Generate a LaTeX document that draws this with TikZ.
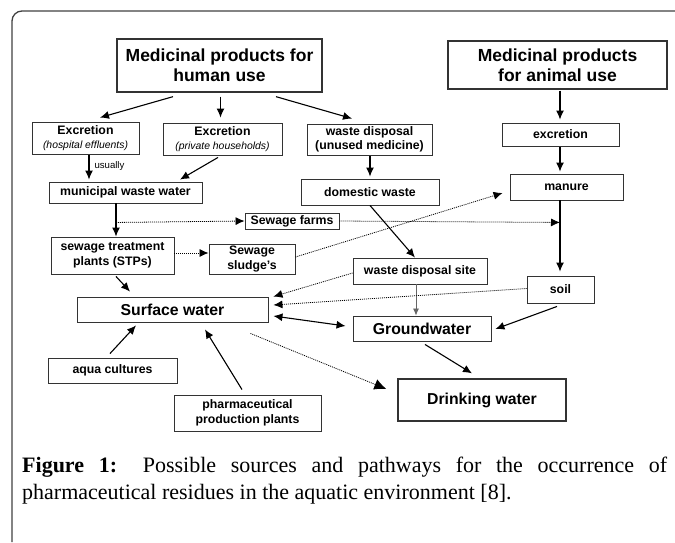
\documentclass[tikz,border=0pt]{standalone}
\usepackage{fontspec}
\setmainfont{Liberation Serif}
\newfontfamily\arialfont{Liberation Sans}
\newcommand\subtxt[1]{{\mdseries\itshape\fontsize{10.4}{12}\selectfont #1}}
\usetikzlibrary{arrows.meta,calc}
\begin{document}
\begin{tikzpicture}[x=1pt,y=-1pt,
  box/.style={draw=black!80,line width=0.9pt,inner sep=0pt,align=center,
    font=\arialfont\bfseries\fontsize{12.3}{14.5}\selectfont},
  bigbox/.style={box,line width=1.3pt,font=\arialfont\bfseries\fontsize{17.5}{20}\selectfont},
  midbox/.style={box,font=\arialfont\bfseries\fontsize{15.8}{18}\selectfont},
  arr/.style={line width=1.1pt,-{Latex[length=9pt,width=8pt]}},
  thinarr/.style={line width=0.8pt,draw=black!60,-{Latex[length=7pt,width=6pt]}},
  darr/.style={line width=0.8pt,dash pattern=on 1pt off 1pt,-{Latex[length=9pt,width=8pt]}},
  dbig/.style={line width=0.8pt,dash pattern=on 1pt off 1pt,-{Latex[length=12pt,width=11pt]}},
  lbl/.style={font=\arialfont\fontsize{9.6}{11}\selectfont,inner sep=0pt}
]
\useasboundingbox (0,0) rectangle (675,542);
% frame
\draw[line width=1.3pt,draw=black!75,rounded corners=10pt] (12,542) -- (12,11) -- (675,11);

% boxes
\node[bigbox,minimum width=205pt,minimum height=53pt] (human) at (219.5,65.5) {Medicinal products for\\human use};
\node[bigbox,minimum width=219pt,minimum height=48pt] (animal) at (557.5,65) {Medicinal products\\for animal use};
\node[box,minimum width=107pt,minimum height=32pt] (exhosp) at (85.5,138) {Excretion\\\subtxt{(hospital effluents)}};
\node[box,minimum width=119pt,minimum height=32pt] (exhh) at (222.5,139) {Excretion\\\subtxt{(private households)}};
\node[box,minimum width=125pt,minimum height=31pt] (wdisp) at (369.5,139.5) {waste disposal\\(unused medicine)};
\node[box,minimum width=117pt,minimum height=23pt] (excr) at (560.5,134.5) {excretion};
\node[box,minimum width=153pt,minimum height=21pt] (municipal) at (125.5,192.5) {municipal waste water};
\node[box,minimum width=138pt,minimum height=26pt] (domestic) at (370,192) {domestic waste};
\node[box,minimum width=113pt,minimum height=26pt] (manure) at (566.5,187) {manure};
\node[box,minimum width=94pt,minimum height=16pt] (farms) at (292,221) {Sewage farms};
\node[box,minimum width=123pt,minimum height=37pt] (stp) at (112.5,255.5) {sewage treatment\\plants (STPs)};
\node[box,minimum width=86pt,minimum height=30pt] (sludge) at (252,259) {Sewage\\sludge’s};
\node[box,minimum width=134pt,minimum height=26pt] (wds) at (420,271) {waste disposal site};
\node[box,minimum width=67pt,minimum height=27pt] (soil) at (560.5,289.5) {soil};
\node[midbox,minimum width=191pt,minimum height=25pt] (surface) at (172.5,309.5) {Surface water};
\node[midbox,minimum width=138pt,minimum height=25pt] (ground) at (422,328.5) {Groundwater};
\node[box,minimum width=129pt,minimum height=25pt] (aqua) at (112.5,370.5) {aqua cultures};
\node[box,minimum width=147pt,minimum height=36pt] (pharma) at (247.5,413) {pharmaceutical\\production plants};
\node[midbox,line width=1.3pt,minimum width=168pt,minimum height=42pt] (drink) at (482,400) {Drinking water};

% helper coordinates on lines
\coordinate (mj) at ($(municipal.south)+(-9.5,19)$);
\coordinate (ms) at ($(manure.south)+(-6.5,22)$);

% solid arrows
\draw[arr] ($(human.south)+(-46.5,4)$) -- ($(exhosp.north)+(14.5,-4)$);
\draw[arr] ($(human.south)+(1,4)$) -- ($(exhh.north)+(-2,-5)$);
\draw[arr] ($(human.south)+(56.5,4)$) -- ($(wdisp.north)+(-17.5,-5)$);
\draw[arr] ($(exhosp.south)+(3.5,1)$) -- node[lbl,anchor=west,xshift=5pt,yshift=1pt]{usually} ($(municipal.north)+(-36.5,-2)$);
\draw[arr] ($(exhh.south)+(-4.5,2)$) -- ($(municipal.north)+(54.5,-2)$);
\draw[arr] ($(wdisp.south)+(0.5,1)$) -- ($(domestic.north)+(0,-2)$);
\draw[arr] ($(animal.south)+(2.5,1)$) -- ($(excr.north)+(-0.5,-3)$);
\draw[arr] ($(excr.south)+(-0.5,1)$) -- ($(manure.north)+(-6.5,-2)$);
\draw[arr] ($(municipal.south)+(-9.5,0)$) -- ($(stp.north)+(3.5,0)$);
\draw[arr] ($(manure.south)+(-6.5,0)$) -- ($(soil.north)+(-0.5,-4)$);
\draw[arr] ($(stp.south)+(3.5,2)$) -- ($(surface.north)+(-42.5,-5)$);
\draw[arr] (domestic.south) -- ($(wds.north)+(-5,0)$);
\draw[thinarr] ($(wds.south)+(-4,0)$) -- ($(ground.north)+(-6,0)$);
\draw[arr] ($(soil.south)+(-3.5,3)$) -- ($(ground.east)+(4,0.5)$);
\draw[arr] ($(ground.south)+(3,3)$) -- ($(drink.north)+(-10,-5)$);
\draw[arr] ($(aqua.north)+(-2.5,-4)$) -- ($(surface.south)+(-36.5,3)$);
\draw[arr] ($(pharma.north)+(-5.5,-5)$) -- ($(surface.south)+(32.5,7)$);
\draw[line width=1.1pt,{Latex[length=9pt,width=8pt]}-{Latex[length=9pt,width=8pt]}] ($(surface.east)+(5,6.5)$) -- ($(ground.west)+(-7,-2.5)$);

% dotted arrows
\draw[darr] (mj) -- (farms.west);
\draw[darr] (farms.east) -- (ms);
\draw[darr] ($(stp.east)+(0,-2.5)$) -- ($(sludge.west)+(0,-6)$);
\draw[darr] ($(sludge.east)+(0,-2)$) -- ($(manure.west)+(-7,6)$);
\draw[darr] ($(wds.west)+(0,2)$) -- ($(surface.north east)+(5,0)$);
\draw[darr] ($(soil.west)+(0,-1)$) -- ($(surface.east)+(5,-4.5)$);
\draw[dbig] ($(surface.south east)+(-18,11)$) -- ($(drink.west)+(-11,-11)$);

% caption
\node[anchor=base west,text width=645pt,align=justify,inner sep=0pt,
  font=\fontsize{22}{27}\selectfont] (cap) at (22,472)
  {\textbf{Figure 1:} Possible sources and pathways for the occurrence of\linebreak pharmaceutical residues in the aquatic environment [8].};
\end{tikzpicture}
\end{document}
